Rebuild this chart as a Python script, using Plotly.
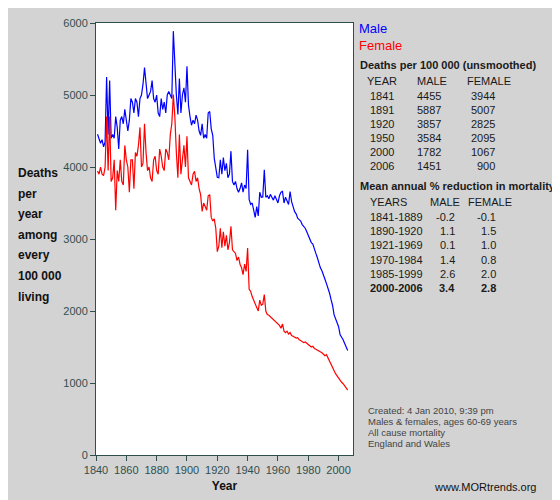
import plotly.graph_objs as go

annees = list(range(1841, 2007))

hommes = [
    4455, 4400, 4330, 4380, 4280, 4350, 5250, 4450, 5200, 4400,
    4450, 4400, 4700, 4550, 4250, 4650, 4700, 4600, 4800, 4650,
    4500, 4650, 4950, 4900, 4750, 4950, 4900, 4700, 4950, 5000,
    5150, 5380, 5100, 4950, 5000, 5050, 5200, 4950, 4900, 5000,
    4750, 4700, 4950, 4800, 4900, 4750, 5000, 5050, 5000, 4950,
    5887, 5400, 5000, 4730, 5230, 4750, 5000, 5100, 4900, 5400,
    4860, 4700, 4580, 4650, 4600, 4720, 4650, 4500, 4440, 4600,
    4400, 4450, 4400, 4750, 4770, 4530, 4440, 4120, 3950, 3857,
    3850, 4100, 3900, 4130, 3950, 4050, 3850, 3900, 4220, 3800,
    3750, 3800, 3700, 3650, 3700, 3780, 3650, 3750, 3700, 4240,
    3550, 3480, 3500, 3400, 3300, 3450, 3320, 3650, 3580, 3584,
    3960, 3580, 3600, 3560, 3620, 3580, 3540, 3600, 3560, 3500,
    3600, 3650, 3660, 3500, 3580, 3520, 3480, 3660, 3520, 3450,
    3380, 3350, 3290, 3270, 3250, 3200, 3180, 3150, 3100, 3040,
    2980, 2950, 2930, 2850, 2800, 2740, 2650, 2600, 2560, 2480,
    2440, 2380, 2320, 2250, 2160, 2080, 1950, 1900, 1830, 1782,
    1670, 1640, 1600, 1550, 1500, 1451,
]

femmes = [
    3944, 3900, 4000, 3900, 3880, 4000, 4700, 3950, 4700, 3800,
    3850, 4100, 3400, 3950, 3800, 4100, 3800, 3750, 4300, 4100,
    4000, 3650, 4100, 4100, 3700, 4200, 4150, 4300, 4550, 4000,
    4050, 4600, 4200, 3950, 4000, 3850, 3800, 4100, 4150, 3950,
    3900, 4250, 4150, 4000, 3950, 4250, 4200, 4100, 4450, 4600,
    5007, 4700, 4200, 3850, 4450, 3900, 4100, 4300, 4000, 4426,
    3850, 3800, 3750, 3900, 3940, 3800, 3850, 3700, 3616, 3384,
    3500, 3450, 3400, 3600, 3616, 3300, 3250, 3280, 3150, 2825,
    2900, 3150, 2880, 3100, 2900, 3050, 2850, 2950, 3176, 2850,
    2829, 2800, 2700, 2750, 2650, 2600, 2505, 2650, 2550, 2875,
    2300, 2273, 2200, 2150, 2100, 2050, 2000, 2150, 2080, 2095,
    2227, 2000, 1950, 1940, 1920, 1900, 1880, 1850, 1840, 1820,
    1800, 1760, 1820, 1720, 1700, 1720, 1680, 1700, 1660, 1650,
    1640, 1625, 1630, 1600, 1590, 1580, 1560, 1570, 1550, 1530,
    1520, 1500, 1510, 1480, 1470, 1460, 1440, 1430, 1420, 1400,
    1380, 1393, 1350, 1300, 1250, 1200, 1162, 1130, 1100, 1067,
    1040, 1010, 990, 960, 930, 900,
]

tab_annees = ['1841', '1891', '1920', '1950', '2000', '2006']
tab_hommes = ['4455', '5887', '3857', '3584', '1782', '1451']
tab_femmes = ['3944', '5007', '2825', '2095', '1067', '900']

periodes = ['1841-1889', '1890-1920', '1921-1969', '1970-1984', '1985-1999', '2000-2006']
red_hommes = ['-0.2', '1.1', '0.1', '1.4', '2.6', '3.4']
red_femmes = ['-0.1', '1.5', '1.0', '0.8', '2.0', '2.8']

etiquette_gauche = ['Deaths', 'per', 'year', 'among', 'every', '100 000', 'living']
pied = ['Created: 4 Jan 2010, 9:39 pm', 'Males & females, ages 60-69 years',
        'All cause mortality', 'England and Wales']

W, H = 560, 500
L, R, T, B = 88, 215, 15, 53
police = 'Liberation Sans, Arial, sans-serif'
texte = '#1a1a1a'

annotations = []


def txt(t, x, y, taille=11, couleur=texte, ancre='left', gras=False):
    # x, y in pixels of the 560x500 window
    if gras:
        t = '<b>' + t + '</b>'
    annotations.append(dict(text=t, xref='paper', yref='paper',
                            x=(x - L) / (W - L - R), y=(H - B - y) / (H - T - B),
                            xanchor=ancre, yanchor='middle', showarrow=False,
                            font=dict(family=police, size=taille, color=couleur)))


for i, mot in enumerate(etiquette_gauche):
    txt(mot, 8, 165 + i * 20.6, 12, '#111', gras=True)

txt('Male', 349, 21, 13, '#0000ff')
txt('Female', 349, 37, 13, '#ff0000')
txt('Deaths per 100 000 (unsmoothed)', 350, 57, 11, gras=True)
txt('YEAR', 357, 73)
txt('MALE', 407, 73)
txt('FEMALE', 457, 73)
for i in range(6):
    y = 88 + i * 14
    txt(tab_annees[i], 360, y)
    txt(tab_hommes[i], 435, y, ancre='right')
    txt(tab_femmes[i], 489, y, ancre='right')

txt('Mean annual % reduction in mortality', 350, 178, 11, gras=True)
txt('YEARS', 360, 194)
txt('MALE', 420, 194)
txt('FEMALE', 458, 194)
for i in range(6):
    y = 209 + i * 14.2
    g = i == 5
    txt(periodes[i], 360, y, gras=g)
    txt(red_hommes[i], 449, y, ancre='right', gras=g)
    txt(red_femmes[i], 490, y, ancre='right', gras=g)

for i, ligne in enumerate(pied):
    txt(ligne, 358, 402 + i * 11.3, 9.5, '#444')
txt('www.MORtrends.org', 530, 479, 11, '#111', ancre='right')

trace_h = go.Scatter(x=annees, y=hommes, mode='lines', name='Male',
                     line=dict(color='#0000ff', width=1.2))
trace_f = go.Scatter(x=annees, y=femmes, mode='lines', name='Female',
                     line=dict(color='#ff0000', width=1.2))

axe = dict(showgrid=False, zeroline=False, showline=True, linecolor='#2f4f4f',
           linewidth=1, mirror=True, ticks='outside', tickcolor='#2f4f4f', ticklen=5,
           tickfont=dict(family=police, size=11, color='#2f4f4f'))

layout = go.Layout(
    width=W, height=H, margin=dict(l=L, r=R, t=T, b=B, autoexpand=False),
    paper_bgcolor='#d3d3d3', plot_bgcolor='white', showlegend=False,
    xaxis=dict(axe, range=[1840, 2009.5], tick0=1840, dtick=20,
               title=dict(text='<b>Year</b>', standoff=6,
                          font=dict(family=police, size=12, color='#111'))),
    yaxis=dict(axe, range=[0, 6000], tick0=0, dtick=1000),
    annotations=annotations,
)
fig = go.Figure(data=[trace_h, trace_f], layout=layout)
fig.write_html('out.html')
